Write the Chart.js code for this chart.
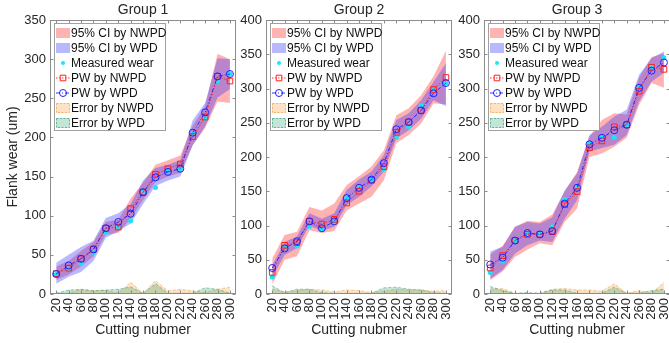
<!DOCTYPE html>
<html>
<head>
<meta charset="utf-8">
<script src="https://cdn.jsdelivr.net/npm/chart.js@4.4.1/dist/chart.umd.min.js"></script>
<style>
  html, body { margin: 0; padding: 0; width: 669px; height: 343px; overflow: hidden; background: #fff; }
  canvas { position: absolute; top: 0; }
</style>
</head>
<body>
<canvas id="group1" width="250" height="343" style="left:0px"></canvas>
<canvas id="group2" width="226" height="343" style="left:240px"></canvas>
<canvas id="group3" width="226" height="343" style="left:458px"></canvas>
<script>
'use strict';

// x categories (cutting number)
const cuttingNumbers = ['20', '40', '60', '80', '100', '120', '140', '160', '180', '200', '220', '240', '260', '280', '300'];
const groupTitles = ['Group 1', 'Group 2', 'Group 3'];
const yMaxByGroup = [350, 400, 400];

// Group 1
const g1Measured = [25, 32, 39, 53, 79, 86, 93.5, 130, 136, 156, 160, 205, 224, 272, 281];
const g1PwNwpd = [26, 33, 45, 57, 84, 85.5, 109, 130, 153, 160, 166, 201, 226, 278, 272];
const g1PwWpd = [25.5, 36.5, 45, 57, 84, 92, 102.5, 130, 149, 156, 160, 206, 232, 278, 281];
const g1CiNwpdLow = [18, 25, 35, 48, 76, 78, 96, 120, 143, 150, 155, 190, 212, 246, 244];
const g1CiNwpdHigh = [35, 42, 55, 66, 92, 95, 122, 142, 165, 171, 177, 215, 240, 307, 300];
const g1CiWpdLow = [13, 22, 28, 42, 72, 80, 90, 115, 138, 145, 150, 190, 214, 251, 262];
const g1CiWpdHigh = [40, 50, 60, 68, 97, 103, 115, 145, 161, 165, 171, 222, 244, 301, 300];
const g1ErrNwpd = [1, 1, 6, 4, 5, 1, 15, 1, 17, 4, 6, 4, 2, 6, 9];
const g1ErrWpd = [1, 5, 6, 4, 5, 6, 9, 1, 13, 1, 1, 1, 8, 6, 1];

// Group 2
const g2Measured = [25, 68, 70, 98.5, 95, 106, 140, 156, 167, 182, 229, 244, 275, 297.5, 308];
const g2PwNwpd = [31.5, 71, 75, 106, 102, 109, 133, 150, 166, 186, 236, 251, 268, 298.5, 316];
const g2PwWpd = [38, 66.5, 77, 106, 96, 106, 140, 155, 167, 191, 240.5, 251, 268, 293, 308];
const g2CiNwpdLow = [14, 50, 55, 93, 89, 92, 122, 132, 142, 166, 220, 232, 249, 278, 277];
const g2CiNwpdHigh = [52, 86, 91, 127, 122, 132, 159, 172, 186, 210, 261, 271, 290, 318, 355];
const g2CiWpdLow = [25, 57, 67, 100, 92, 98, 130, 142, 157, 179, 227, 239, 256, 283, 274];
const g2CiWpdHigh = [42, 76, 84, 118, 110, 118, 152, 167, 179, 203, 254, 264, 283, 310, 337];
const g2ErrNwpd = [7, 3, 5, 7, 6, 3, 6, 5, 2, 4, 7, 6, 6, 4, 5];
const g2ErrWpd = [12, 2, 7, 7, 2, 1, 1, 1, 1, 9, 10, 7, 6, 2, 1];

// Group 3
const g3Measured = [31.5, 48, 78, 87, 88, 98, 138, 156, 219.5, 228, 229, 247, 301, 331, 345];
const g3PwNwpd = [38, 56, 78, 87, 87, 91, 130.5, 149.5, 213.5, 223.5, 244, 247, 296, 331, 328];
const g3PwWpd = [43, 53, 78, 89, 87, 92, 132, 155, 218.5, 228, 239, 247, 301, 326, 338];
const g3CiNwpdLow = [20, 33, 54, 65, 74, 71, 105, 125, 200, 205, 215, 228, 276, 308, 301];
const g3CiNwpdHigh = [58, 70, 98, 107, 105, 116, 150, 178, 230, 254, 264, 262, 316, 346, 351];
const g3CiWpdLow = [22, 35, 59, 71, 78, 76, 110, 137, 208, 213, 218, 232, 281, 310, 323];
const g3CiWpdHigh = [62, 69, 98, 105, 103, 112, 151, 176, 232, 244, 259, 269, 320, 344, 354];
const g3ErrNwpd = [7, 8, 1, 1, 1, 7, 8, 6, 6, 4, 15, 1, 5, 1, 17];
const g3ErrWpd = [11, 5, 1, 2, 1, 6, 6, 1, 1, 1, 10, 1, 1, 5, 7];

const groups = [
    { measured: g1Measured, pwNwpd: g1PwNwpd, pwWpd: g1PwWpd, ciNwpdLow: g1CiNwpdLow, ciNwpdHigh: g1CiNwpdHigh,
      ciWpdLow: g1CiWpdLow, ciWpdHigh: g1CiWpdHigh, errNwpd: g1ErrNwpd, errWpd: g1ErrWpd },
    { measured: g2Measured, pwNwpd: g2PwNwpd, pwWpd: g2PwWpd, ciNwpdLow: g2CiNwpdLow, ciNwpdHigh: g2CiNwpdHigh,
      ciWpdLow: g2CiWpdLow, ciWpdHigh: g2CiWpdHigh, errNwpd: g2ErrNwpd, errWpd: g2ErrWpd },
    { measured: g3Measured, pwNwpd: g3PwNwpd, pwWpd: g3PwWpd, ciNwpdLow: g3CiNwpdLow, ciNwpdHigh: g3CiNwpdHigh,
      ciWpdLow: g3CiWpdLow, ciWpdHigh: g3CiWpdHigh, errNwpd: g3ErrNwpd, errWpd: g3ErrWpd },
];

// plot area placement inside each canvas: [left, right]
const plotArea = [[50, 238], [26, 214], [26, 214]];

const TEXT = '#262626';
const AXIS = '#8c8c8c';
Chart.defaults.font.family = "'Liberation Sans', Arial, Helvetica, sans-serif";
Chart.defaults.color = TEXT;

/**
 * Build the datasets of one group, in MATLAB plot order.
 */
function buildDatasets(g) {
    const band = (data, color, order, label) => ({
        label: label, data: data, fill: label ? '+1' : false, backgroundColor: color,
        borderColor: 'rgba(0,0,0,0)', borderWidth: 0, pointRadius: 0, order: order,
        legendType: 'patch',
    });
    return [
        band(g.ciNwpdHigh, 'rgba(255, 0, 0, 0.3)', 10, '95% CI by NWPD'),
        band(g.ciNwpdLow, 'rgba(255, 0, 0, 0.3)', 10, ''),
        band(g.ciWpdHigh, 'rgba(40, 40, 255, 0.33)', 9, '95% CI by WPD'),
        band(g.ciWpdLow, 'rgba(40, 40, 255, 0.33)', 9, ''),
        {
            label: 'Measured wear', data: g.measured, showLine: false, order: 3,
            pointStyle: 'circle', pointRadius: 2.5, pointBorderWidth: 0,
            pointBackgroundColor: '#19e3f5', borderColor: '#19e3f5', legendType: 'dot',
        },
        {
            label: 'PW by NWPD', data: g.pwNwpd, order: 2, borderColor: '#ff2020', borderWidth: 0.9,
            borderDash: [1.5, 1.5], pointStyle: 'rect', pointRadius: 4, pointBorderWidth: 1,
            pointBorderColor: '#ff2020', pointBackgroundColor: 'rgba(0,0,0,0)', legendType: 'line',
        },
        {
            label: 'PW by WPD', data: g.pwWpd, order: 1, borderColor: '#2020ff', borderWidth: 0.9,
            borderDash: [4, 2, 1, 2], pointStyle: 'circle', pointRadius: 3.5, pointBorderWidth: 1,
            pointBorderColor: '#2020ff', pointBackgroundColor: 'rgba(0,0,0,0)', legendType: 'line',
        },
        {
            label: 'Error by NWPD', data: g.errNwpd, order: 0, fill: 'origin',
            backgroundColor: 'rgba(250, 150, 40, 0.28)', borderColor: 'rgba(240, 150, 60, 0.6)',
            borderWidth: 0.8, borderDash: [3, 2], pointRadius: 0, legendType: 'edgePatch',
        },
        {
            label: 'Error by WPD', data: g.errWpd, order: -1, fill: 'origin',
            backgroundColor: 'rgba(40, 160, 110, 0.28)', borderColor: 'rgba(40, 150, 110, 0.6)',
            borderWidth: 0.8, borderDash: [3, 2], pointRadius: 0, legendType: 'edgePatch',
        },
    ];
}

// axes box with inward tick marks, like a MATLAB axes
const boxPlugin = {
    id: 'axesBox',
    afterDatasetsDraw(chart) {
        const { ctx, chartArea: a, scales } = chart;
        const l = Math.round(a.left) + 0.5, r = Math.round(a.right) - 0.5;
        const t = Math.round(a.top) + 0.5, b = Math.round(a.bottom) - 0.5;
        ctx.save();
        ctx.strokeStyle = AXIS;
        ctx.lineWidth = 1;
        ctx.strokeRect(l, t, r - l, b - t);
        ctx.beginPath();
        cuttingNumbers.forEach((_, i) => {
            const x = Math.round(scales.x.getPixelForValue(i)) + 0.5;
            ctx.moveTo(x, b); ctx.lineTo(x, b - 3);
            ctx.moveTo(x, t); ctx.lineTo(x, t + 3);
        });
        scales.y.ticks.forEach((tk) => {
            const y = Math.round(scales.y.getPixelForValue(tk.value)) + 0.5;
            ctx.moveTo(l, y); ctx.lineTo(l + 3, y);
            ctx.moveTo(r, y); ctx.lineTo(r - 3, y);
        });
        ctx.stroke();
        ctx.restore();
    },
};

// legend box in the north-west corner of the axes
const legendPlugin = {
    id: 'nwLegend',
    afterDraw(chart) {
        const { ctx, chartArea } = chart;
        const entries = chart.data.datasets.filter((d) => d.label);
        const left = Math.round(chartArea.left) + 4, top = Math.round(chartArea.top) + 3;
        const w = 111, rowH = 15, h = entries.length * rowH + 2;
        ctx.save();
        ctx.fillStyle = '#fff';
        ctx.fillRect(left, top, w, h);
        ctx.strokeStyle = '#a0a0a0';
        ctx.lineWidth = 1;
        ctx.strokeRect(left + 0.5, top + 0.5, w, h);
        ctx.font = "12px 'Liberation Sans', Arial, sans-serif";
        ctx.textBaseline = 'middle';
        entries.forEach((d, i) => {
            const cy = top + 10 + i * rowH;
            const sx = left + 2, mx = left + 9;
            if (d.legendType === 'patch' || d.legendType === 'edgePatch') {
                ctx.fillStyle = d.backgroundColor;
                ctx.fillRect(sx, cy - 5, 14, 10);
                if (d.legendType === 'edgePatch') {
                    ctx.setLineDash([2, 1.5]);
                    ctx.strokeStyle = d.borderColor;
                    ctx.strokeRect(sx + 0.5, cy - 4.5, 13, 9);
                    ctx.setLineDash([]);
                }
            } else if (d.legendType === 'dot') {
                ctx.fillStyle = d.pointBackgroundColor;
                ctx.beginPath();
                ctx.arc(mx, cy, 2, 0, Math.PI * 2);
                ctx.fill();
            } else {
                ctx.strokeStyle = d.borderColor;
                ctx.lineWidth = 0.9;
                ctx.setLineDash(d.borderDash);
                ctx.beginPath();
                ctx.moveTo(sx, cy); ctx.lineTo(sx + 15, cy);
                ctx.stroke();
                ctx.setLineDash([]);
                ctx.lineWidth = 1;
                ctx.beginPath();
                if (d.pointStyle === 'rect') ctx.rect(mx - 2.8, cy - 2.8, 5.6, 5.6);
                else ctx.arc(mx, cy, 3.5, 0, Math.PI * 2);
                ctx.stroke();
            }
            ctx.fillStyle = '#111';
            ctx.fillText(d.label, left + 17, cy + 0.5);
        });
        ctx.restore();
    },
};

function drawGroup(index) {
    const canvas = document.getElementById('group' + (index + 1));
    const [areaLeft, areaRight] = plotArea[index];
    new Chart(canvas.getContext('2d'), {
        type: 'line',
        data: { labels: cuttingNumbers, datasets: buildDatasets(groups[index]) },
        options: {
            responsive: false,
            animation: false,
            events: [],
            layout: { padding: { left: 0, right: canvas.width - areaRight, top: 0, bottom: 0 } },
            plugins: {
                legend: { display: false },
                tooltip: { enabled: false },
                title: {
                    display: true, text: groupTitles[index], fullSize: false, color: TEXT,
                    font: { size: 14, weight: 'normal' }, padding: { top: 2, bottom: 1.2 },
                },
            },
            scales: {
                x: {
                    type: 'category', offset: true,
                    grid: { display: false, drawTicks: false }, border: { display: false },
                    ticks: { minRotation: 90, maxRotation: 90, autoSkip: false, padding: 4, color: TEXT, font: { size: 13 } },
                    title: { display: true, text: 'Cutting nubmer', color: TEXT, font: { size: 14 }, padding: { top: 0, bottom: 4 } },
                    afterFit: (scale) => { scale.height = 49; },
                },
                y: {
                    min: 0, max: yMaxByGroup[index],
                    grid: { display: false, drawTicks: false }, border: { display: false },
                    ticks: { stepSize: 50, padding: 4, color: TEXT, font: { size: 13 } },
                    title: { display: index === 0, text: 'Flank wear (um)', color: TEXT, font: { size: 14 }, padding: { top: 5, bottom: 0 } },
                    afterFit: (scale) => { scale.width = areaLeft; },
                },
            },
        },
        plugins: [boxPlugin, legendPlugin],
    });
}

groupTitles.forEach((_, i) => drawGroup(i));
</script>
</body>
</html>
